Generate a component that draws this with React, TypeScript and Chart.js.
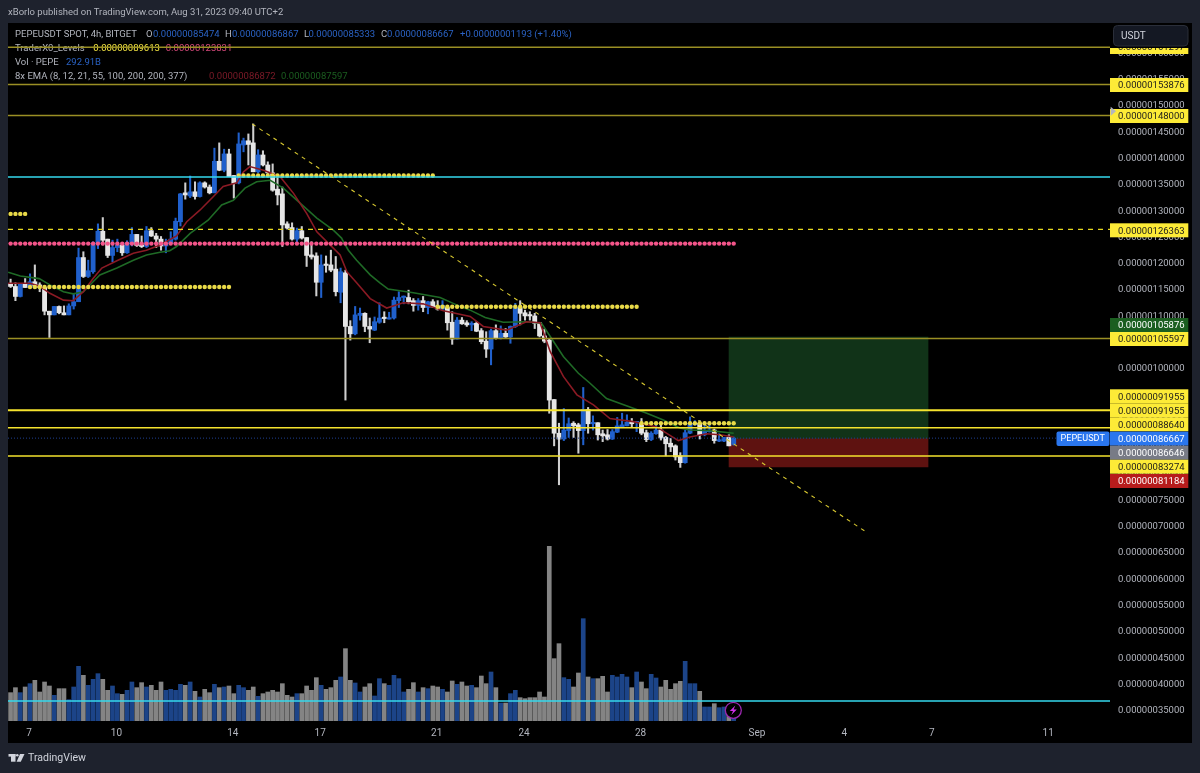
import React, { useEffect, useRef } from "react";
import { Chart, registerables } from "chart.js";

Chart.register(...registerables);

// All prices are in units of 1e-8 USDT. Candle index 0 = Aug 7 (4h candles).
const firstIndex = -4;
const opens = [
  116.1,115.5,113.6,116.0,115.3,116.4,115.8,115.3,110.8,110.1,
  111.7,110.5,110.1,111.8,112.6,121.0,117.4,118.3,123.7,126.0,
  124.5,121.4,122.9,123.4,121.9,123.6,125.4,123.4,123.1,126.1,
  125.1,124.5,123.2,123.7,124.5,127.8,133.3,132.7,133.5,132.6,
  135.2,134.4,133.3,139.3,137.6,140.7,136.6,135.2,142.4,143.2,
  142.8,137.3,140.5,138.6,137.1,134.0,133.1,127.4,126.7,124.5,
  126.1,124.8,121.5,121.3,116.3,119.6,119.6,118.8,114.4,118.1,
  107.9,106.5,110.0,110.4,107.9,107.2,108.7,109.6,109.3,109.5,
  112.8,113.4,113.4,112.8,111.9,112.8,111.5,112.6,111.8,111.2,
  111.5,108.7,105.5,109.1,108.6,108.2,108.5,107.1,105.1,103.6,
  107.1,105.6,106.6,105.9,107.9,111.5,110.5,110.1,109.9,108.6,
  106.1,105.3,94.0,87.6,86.5,88.1,89.5,89.2,88.1,92.1,
  89.4,89.6,87.5,87.3,86.5,87.8,88.8,89.0,89.7,89.6,
  89.5,87.7,86.4,87.5,88.2,86.8,85.7,85.2,83.3,82.0,
  87.6,89.2,89.5,87.3,87.9,88.2,86.1,86.1,86.8,85.474,
];
const highs = [
  116.9,116.2,116.0,117.0,117.9,119.6,116.2,115.6,110.8,111.7,
  111.8,111.8,112.2,114.1,122.8,122.1,120.5,124.0,127.4,128.6,
  124.5,124.3,124.5,123.8,124.2,126.7,125.4,125.1,126.9,126.7,
  125.6,125.0,124.5,125.9,128.5,133.2,135.2,136.5,135.4,135.4,
  135.4,134.8,141.8,142.8,141.6,141.6,136.6,144.7,143.7,144.5,
  146.4,141.5,141.3,139.2,138.8,136.1,134.4,127.8,127.6,126.6,
  126.9,124.8,124.0,121.9,121.5,121.3,122.4,121.2,119.0,118.6,
  109.0,111.7,111.4,110.5,109.5,109.7,112.4,110.7,110.6,113.5,
  114.5,113.7,114.8,113.2,113.2,113.6,112.7,113.0,112.8,112.8,
  111.6,110.7,109.6,109.6,109.0,108.8,108.8,107.5,106.9,107.4,
  108.2,108.0,107.5,108.0,112.3,112.8,111.0,110.7,110.4,108.6,
  107.4,105.5,94.0,89.5,92.3,90.5,89.8,89.5,96.3,92.5,
  90.9,89.6,88.2,88.3,88.3,90.6,91.4,91.1,90.4,89.8,
  90.4,88.2,87.9,89.5,89.5,87.0,86.6,85.4,83.9,88.2,
  90.7,90.0,90.0,89.5,89.2,88.4,87.5,86.8,87.3,86.867,
];
const lows = [
  115.3,112.8,113.5,115.3,115.1,115.6,114.5,110.1,105.8,110.1,
  110.3,110.1,110.1,111.2,112.6,117.2,117.2,118.0,122.7,123.4,
  121.0,120.2,122.1,121.4,121.8,123.2,123.1,122.9,122.9,125.0,
  122.9,122.4,121.9,123.5,124.3,127.0,132.1,132.4,132.1,132.5,
  134.2,133.1,133.3,137.5,137.3,136.4,132.3,135.0,141.1,138.6,
  137.3,137.1,138.4,137.0,133.6,131.0,123.1,126.4,124.3,124.0,
  124.5,119.3,120.7,113.7,113.4,118.2,118.3,113.7,112.4,93.9,
  105.3,106.3,109.1,106.9,104.8,107.1,108.5,108.6,109.3,109.3,
  111.5,112.2,112.2,110.8,111.0,110.7,110.3,111.5,111.0,111.0,
  107.2,104.5,105.5,108.3,107.9,107.1,106.9,104.6,102.0,100.6,
  105.5,105.5,105.8,104.7,107.7,108.2,109.1,109.1,107.5,105.9,
  104.8,91.4,85.2,77.8,86.2,86.8,86.8,83.8,85.4,87.6,
  88.2,86.3,86.0,86.3,86.4,87.7,88.7,89.0,88.8,87.9,
  87.3,86.0,86.2,87.4,86.3,83.3,84.1,82.5,81.1,81.9,
  87.5,89.1,86.5,87.1,87.8,85.7,86.0,86.0,85.2,85.333,
];
const closes = [
  115.5,113.6,116.0,115.3,116.4,115.6,115.3,110.8,110.1,111.7,
  110.5,110.1,111.8,112.6,121.0,117.4,118.5,123.7,126.0,124.3,
  121.4,122.9,123.4,121.9,123.8,125.4,123.3,123.1,126.1,125.1,
  124.5,123.2,123.8,124.5,127.9,133.1,132.9,133.5,132.6,135.2,
  134.4,133.3,139.3,137.6,140.7,136.4,135.1,142.6,143.2,142.5,
  137.3,140.5,138.6,137.1,133.8,132.9,127.2,126.6,124.5,126.1,
  124.7,121.4,121.1,116.3,119.6,119.5,118.6,114.5,118.3,107.9,
  106.5,110.1,110.4,107.9,107.4,108.8,109.5,109.4,109.5,112.9,
  113.4,113.5,112.6,111.9,112.8,111.5,112.6,111.6,111.2,111.9,
  108.6,105.5,109.1,108.4,108.2,108.5,107.0,105.0,103.6,107.1,
  105.6,106.6,105.9,107.9,111.5,110.4,109.9,109.9,108.5,106.1,
  105.1,93.9,87.6,86.5,88.2,89.4,89.0,88.1,92.1,89.4,
  89.6,87.3,87.1,86.5,87.9,89.0,89.2,89.7,89.4,89.7,
  87.6,86.4,87.6,88.2,86.7,85.6,85.0,83.1,82.0,87.7,
  89.4,89.5,87.3,88.1,88.2,86.2,86.3,86.8,85.2,86.667,
];
// Relative volume per candle (same order as the candles).
const volumes = [
  85,100,85,102,112,122,87,117,105,77,
  97,97,64,102,164,137,107,125,142,125,
  92,105,82,80,92,117,100,115,102,107,
  92,117,92,95,92,110,107,117,89,72,
  95,85,110,100,102,105,82,107,100,92,
  102,74,82,87,92,87,112,77,72,82,
  82,105,92,130,107,95,100,122,132,217,
  122,114,87,102,112,75,127,112,107,137,
  127,87,95,115,87,100,97,105,102,95,
  87,120,110,117,105,107,100,135,112,147,
  100,54,54,82,92,70,67,70,70,87,
  72,524,187,232,130,125,102,144,307,132,
  127,127,134,87,137,132,140,132,100,147,
  117,97,140,129,102,122,95,112,119,179,
  112,112,89,42,42,52,40,42,17,12,
];

const emaFastIdx = [-4.5,0,1.9,4.1,6.9,8.9,11,13,14.8,17.9,21.3,24,26.8,30.2,32.3,35,37.8,39.8,42.6,44,45.3,48.1,51.5,54.3,57,59.1,62.5,63.9,65.3,67.3,70.1,73.5,76.9,81,85.2,90.7,93.4,98.2,102.3,105.1,107.2,109.9,112.7,116.1,119.5,124.3,129.1,133.6,136,139.4,142.2,145];
const emaFastVal = [116.1,116.1,115.6,114.2,112.9,112.8,114.5,117.0,119.0,120.4,121.8,122.4,123.4,125.1,127.8,130.0,132.6,134.5,135.2,137.3,138.3,137.6,136.4,133.2,129.4,125.9,122.8,121.5,118.3,116.2,113.2,111.4,112.4,112.2,110.9,109.8,107.9,107.2,108.8,108.6,103.1,98.4,94.9,93.0,90.4,89.8,88.8,86.2,86.9,87.5,87.3,86.872];
const emaSlowIdx = [-4.5,-2,1.9,4.1,6.9,8.9,11,13,14.4,17.9,21.3,24,26.8,28.8,30.2,33,36.7,39.5,41.9,44.3,46.7,49.5,52.2,55.6,59.1,62.5,64.2,64.6,65.6,67.3,70.1,72.1,73.8,79,84.5,87.9,90.7,93.8,97.5,102.3,105.4,107.2,109.9,113,115.4,118.8,123.6,127.1,130.5,133.9,136,140.1,145];
const emaSlowVal = [118.2,117.5,117.0,115.8,114.5,114.1,114.5,116.4,117.7,119.0,120.5,121.5,122.0,122.3,123.1,125.6,128.1,131.0,131.9,134.2,135.4,135.7,134.2,131.4,128.5,126.2,124.7,124.0,122.4,120.5,117.7,116.2,115.0,114.3,113.4,112.0,111.0,109.6,108.7,108.8,108.5,106.0,102.2,99.0,97.1,94.2,92.6,91.4,90.1,88.6,88.2,88.1,87.597];

const priceTicks = [35,40,45,50,55,60,65,70,75,80,85,90,95,100,105,110,115,120,125,130,135,140,145,150,155,160];
const timeTickIdx = [-0.2,17.8,41.8,59.8,83.8,101.8,125.8,149.8,167.8,185.8,209.8];
const timeTickLabels = ["7","10","14","17","21","24","28","Sep","4","7","11"];

const oliveLevels = [161.0, 153.876, 148.0, 105.597];
const brightLevels = [91.955, 88.64, 83.274];
const brightWidths = [2, 1.6, 1.6];
const cyanLevels = [136.3, 36.7];
const dashedLevel = 126.363;
const lastPrice = 86.667;
const trendIdx = [45.8, 172];
const trendVal = [146.4, 69.0];

const dotRuns = [
  { color: "#e9da48", from: -4, to: -1, value: 129.3 },
  { color: "#e9da48", from: 0, to: 41, value: 115.4 },
  { color: "#e9da48", from: 43, to: 83, value: 136.6 },
  { color: "#e9da48", from: 84, to: 125, value: 111.65 },
  { color: "#e9da48", from: 126, to: 145, value: 89.5 },
  { color: "#f4558a", from: -4, to: 145, value: 123.65 },
];

const profitBox = [86.667, 105.876];
const lossBox = [81.184, 86.667];
const boxCenter = 164.54;

const tagTexts = ["0.00000161297","0.00000153876","0.00000148000","0.00000126363","0.00000105876","0.00000105597","0.00000091955","0.00000091955","0.00000088640","0.00000086667","0.00000086646","0.00000083274","0.00000081184"];
const tagFills = ["#fdeb37","#fdeb37","#fdeb37","#fdeb37","#1b5e20","#fdeb37","#fdeb37","#fdeb37","#fdeb37","#2a76ee","#787b86","#fdeb37","#b71c1c"];
const tagInk = ["#1a1a1a","#1a1a1a","#1a1a1a","#1a1a1a","#ffffff","#1a1a1a","#1a1a1a","#1a1a1a","#1a1a1a","#ffffff","#ffffff","#1a1a1a","#ffffff"];
const tagCenters = [47, 85, 116, 230.3, 325, 339, 396.3, 410.3, 424.3, 438.6, 452.7, 466.7, 481];

const FONT = 'Roboto, "Liberation Sans", Arial, sans-serif';
const GRAY = "#b2b5be";
const xMin = -4.533;
const xMax = 222.54;

const indices = opens.map((_, i) => i + firstIndex);
const isUp = opens.map((o, i) => closes[i] >= o);
const fmt = (v: number) => (v * 1e-8).toFixed(11);

function hLine(value: number, color: string, width: number, order: number, dash: number[] = [], to = xMax) {
  return {
    type: "line" as const,
    data: [{ x: xMin, y: value }, { x: to, y: value }],
    borderColor: color,
    borderWidth: width,
    borderDash: dash,
    pointRadius: 0,
    order,
    yAxisID: "y",
  };
}

const chromePlugin = {
  id: "chrome",
  beforeDraw(chart: any) {
    const c = chart.ctx;
    c.save();
    c.fillStyle = "#1e222d";
    c.fillRect(0, 0, 1200, 773);
    c.fillStyle = "#000000";
    c.fillRect(8, 23, 1184, 720);
    c.restore();
  },
  beforeDatasetsDraw(chart: any) {
    const c = chart.ctx;
    c.save();
    c.textBaseline = "middle";
    c.textAlign = "left";
    c.font = `9.5px ${FONT}`;
    const put = (t: string, x: number, y: number, col: string, w?: number) => {
      c.fillStyle = col;
      if (w) c.fillText(t, x, y, w);
      else c.fillText(t, x, y);
    };
    const BLUE = "#2a62c4";
    put("xBorlo published on TradingView.com, Aug 31, 2023 09:40 UTC+2", 8, 12.5, GRAY, 289);
    put("PEPEUSDT SPOT, 4h, BITGET", 15, 34.5, GRAY, 124);
    put("O", 146, 34.5, GRAY);
    put("0.00000085474", 153, 34.5, BLUE);
    put("H", 225, 34.5, GRAY);
    put("0.00000086867", 232, 34.5, BLUE);
    put("L", 304, 34.5, GRAY);
    put("0.00000085333", 308.5, 34.5, BLUE);
    put("C", 381, 34.5, GRAY);
    put("0.00000086667", 387, 34.5, BLUE);
    put("+0.00000001193 (+1.40%)", 460, 34.5, BLUE, 112);
    put("TraderX0_Levels", 15, 49, GRAY, 72);
    put("0.00000089613", 93.3, 49, "#f5e642");
    put("0.00000123831", 165.7, 49, "#d84a7c");
    put("Vol · PEPE", 15, 63, GRAY, 45);
    put("292.91B", 66, 63, BLUE, 35);
    put("8x EMA (8, 12, 21, 55, 100, 200, 200, 377)", 15, 77, GRAY, 187.7);
    put("0.00000086872", 209, 77, "#7d1a28");
    put("0.00000087597", 281, 77, "#1b5e20");
    c.restore();
  },
  afterDraw(chart: any) {
    const c = chart.ctx;
    c.save();
    c.textBaseline = "middle";
    c.textAlign = "left";
    c.font = `9.5px ${FONT}`;
    tagTexts.forEach((t, i) => {
      c.fillStyle = tagFills[i];
      c.fillRect(1110, tagCenters[i] - 7, 78.3, 14);
      c.fillStyle = tagInk[i];
      c.fillText(t, 1118, tagCenters[i] + 1);
    });
    // USDT currency box with its black margin
    c.fillStyle = "#000000";
    c.fillRect(1110, 23, 82, 25);
    c.beginPath();
    c.roundRect(1113.5, 25.5, 74.5, 20.5, 4);
    c.fillStyle = "#141823";
    c.fill();
    c.strokeStyle = "#2a2e39";
    c.lineWidth = 1;
    c.stroke();
    c.font = `10px ${FONT}`;
    c.fillStyle = "#d1d4dc";
    c.fillText("USDT", 1121, 36);
    // Symbol tag
    c.font = `9.5px ${FONT}`;
    c.fillStyle = "#2a76ee";
    c.beginPath();
    c.roundRect(1056.5, 431.5, 53, 14.5, 2);
    c.fill();
    c.fillStyle = "#ffffff";
    c.fillText("PEPEUSDT", 1060.5, 439, 44.3);
    // small pointer on the scale
    c.fillStyle = "#b2b5be";
    c.beginPath();
    c.moveTo(1110.7, 106.7);
    c.lineTo(1116, 111.2);
    c.lineTo(1110.7, 115.7);
    c.closePath();
    c.fill();
    // Lightning badge
    c.beginPath();
    c.arc(733.3, 710.3, 8, 0, Math.PI * 2);
    c.fillStyle = "#000000";
    c.fill();
    c.strokeStyle = "#9c27b0";
    c.lineWidth = 1.3;
    c.stroke();
    c.fillStyle = "#d02fe8";
    c.beginPath();
    c.moveTo(735.3, 705.5);
    c.lineTo(729.8, 711);
    c.lineTo(733, 711);
    c.lineTo(731.3, 715);
    c.lineTo(736.8, 709.6);
    c.lineTo(733.6, 709.6);
    c.closePath();
    c.fill();
    // Footer mark and name
    c.fillStyle = "#d1d4dc";
    c.fillRect(8.5, 754, 7, 2.6);
    c.fillRect(11, 754, 4.5, 7.7);
    c.beginPath();
    c.arc(17.3, 755.3, 1.3, 0, Math.PI * 2);
    c.fill();
    c.beginPath();
    c.moveTo(20, 754);
    c.lineTo(24.5, 754);
    c.lineTo(20.8, 761.7);
    c.lineTo(16.6, 761.7);
    c.closePath();
    c.fill();
    c.font = `11px ${FONT}`;
    c.fillStyle = "#d1d4dc";
    c.fillText("TradingView", 28, 758, 58);
    c.restore();
  },
};

export default function App() {
  const ref = useRef<HTMLCanvasElement | null>(null);
  useEffect(() => {
    document.body.style.margin = "0";
    document.body.style.background = "#1e222d";
    const datasets: any[] = [
      // Position boxes
      { type: "bar", data: [{ x: boxCenter, y: profitBox }], backgroundColor: "#113318", barThickness: 199, order: 100, yAxisID: "y" },
      { type: "bar", data: [{ x: boxCenter, y: lossBox }], backgroundColor: "#5e1210", barThickness: 199, order: 100, yAxisID: "y" },
      // Volume
      {
        type: "bar",
        data: volumes.map((v, i) => ({ x: indices[i], y: v })),
        backgroundColor: isUp.map((u) => (u ? "#1c4488" : "#848484")),
        barThickness: 4,
        order: 90,
        yAxisID: "yVol",
      },
      // Wicks
      {
        type: "bar",
        data: indices.map((x, i) => ({ x, y: [lows[i], highs[i]] })),
        backgroundColor: isUp.map((u) => (u ? "#2060cc" : "#cfcfcf")),
        barThickness: 1.4,
        order: 80,
        yAxisID: "y",
      },
      // Bodies
      {
        type: "bar",
        data: indices.map((x, i) => ({ x, y: [Math.min(opens[i], closes[i]), Math.max(opens[i], closes[i])] })),
        backgroundColor: isUp.map((u) => (u ? "#2060cc" : "#e6e6e6")),
        barThickness: 4.2,
        minBarLength: 1.4,
        order: 79,
        yAxisID: "y",
      },
      // EMAs
      { type: "line", data: emaSlowIdx.map((x, i) => ({ x, y: emaSlowVal[i] })), borderColor: "#1f6a26", borderWidth: 1.6, pointRadius: 0, tension: 0, order: 60, yAxisID: "y" },
      { type: "line", data: emaFastIdx.map((x, i) => ({ x, y: emaFastVal[i] })), borderColor: "#8a1a24", borderWidth: 1.6, pointRadius: 0, tension: 0, order: 59, yAxisID: "y" },
    ];
    dotRuns.forEach((run) => {
      const pts: { x: number; y: number }[] = [];
      for (let x = run.from; x <= run.to; x++) pts.push({ x, y: run.value });
      datasets.push({ type: "line", data: pts, showLine: false, backgroundColor: run.color, borderWidth: 0, pointRadius: 2.2, order: 50, yAxisID: "y" });
    });
    oliveLevels.forEach((v) => datasets.push(hLine(v, "#9a8f24", 1.5, 30)));
    brightLevels.forEach((v, i) => datasets.push(hLine(v, "#f5e32e", brightWidths[i], 30)));
    cyanLevels.forEach((v) => datasets.push(hLine(v, "#35d8ec", 1.5, 30)));
    datasets.push(hLine(dashedLevel, "#e6d820", 1.4, 30, [5, 5]));
    datasets.push(hLine(lastPrice, "#1f3f90", 1, 31, [1, 2], 211.4));
    datasets.push({
      type: "line",
      data: trendIdx.map((x, i) => ({ x, y: trendVal[i] })),
      borderColor: "#d8c830",
      borderWidth: 1.1,
      borderDash: [4, 4.5],
      pointRadius: 0,
      order: 29,
      yAxisID: "y",
    });

    const chart = new Chart(ref.current as HTMLCanvasElement, {
      type: "bar",
      data: { datasets },
      options: {
        animation: false,
        responsive: false,
        devicePixelRatio: 1,
        events: [],
        layout: { padding: { left: 8, right: 8, top: 23, bottom: 30 } },
        datasets: { bar: { grouped: false } },
        plugins: { legend: { display: false }, tooltip: { enabled: false }, title: { display: false } },
        scales: {
          x: {
            type: "linear",
            min: xMin,
            max: xMax,
            offset: false,
            grid: { display: false, drawTicks: false },
            border: { display: false },
            afterFit: (s: any) => { s.height = 22; },
            afterBuildTicks: (s: any) => { s.ticks = timeTickIdx.map((value) => ({ value })); },
            ticks: {
              autoSkip: false,
              maxRotation: 0,
              padding: 6,
              color: GRAY,
              font: { family: FONT, size: 10 },
              callback: (_v: any, i: number) => timeTickLabels[i],
            },
          },
          y: {
            type: "linear",
            position: "right",
            min: 32.89,
            max: 165.59,
            grid: { display: false, drawTicks: false },
            border: { display: false },
            afterFit: (s: any) => { s.width = 82; },
            afterBuildTicks: (s: any) => { s.ticks = priceTicks.map((value) => ({ value })); },
            ticks: {
              autoSkip: false,
              padding: 8,
              labelOffset: 1,
              color: GRAY,
              font: { family: FONT, size: 9.5 },
              callback: (v: any) => fmt(Number(v)),
            },
          },
          yVol: { type: "linear", display: false, min: 0, max: 2094 },
        },
      } as any,
      plugins: [chromePlugin],
    });
    return () => chart.destroy();
  }, []);
  return <canvas ref={ref} width={1200} height={773} style={{ display: "block", width: 1200, height: 773 }} />;
}
